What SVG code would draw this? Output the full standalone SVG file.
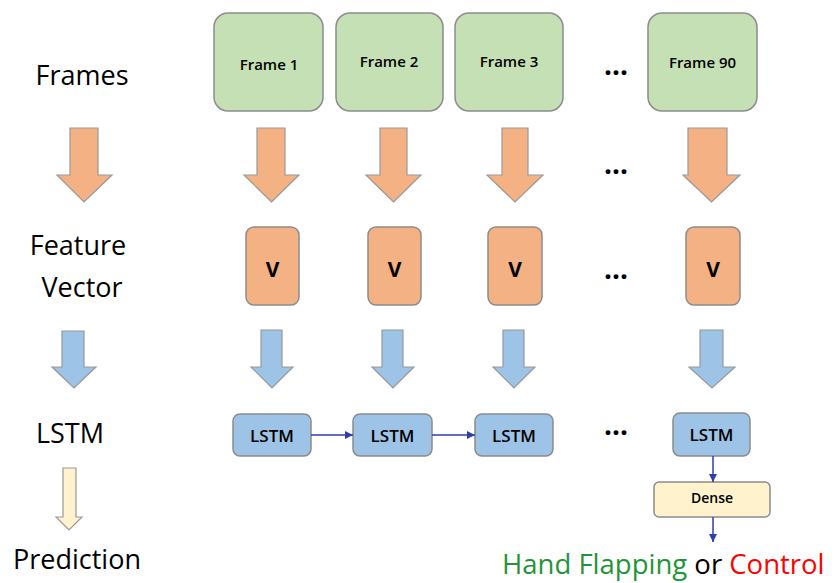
<svg xmlns="http://www.w3.org/2000/svg" width="837" height="583" viewBox="0 0 837 583">
<defs>
<style>
.lbl{font-family:"Open Sans","Liberation Sans",sans-serif;font-size:27px;fill:#000;text-anchor:middle}
.t{font-family:"Open Sans","Liberation Sans",sans-serif;fill:#000;text-anchor:middle;font-weight:600}
.vt{font-family:"Open Sans","Liberation Sans",sans-serif;fill:#000;text-anchor:middle;font-weight:700;font-size:21px}
.frame{fill:#c5e0b4;stroke:#8c8c8c;stroke-width:1.5}
.vec{fill:#f4b183;stroke:#8c8c8c;stroke-width:1.5}
.lstm{fill:#9dc3e6;stroke:#8c8c8c;stroke-width:1.5}
.dense{fill:#fff2cc;stroke:#8c8c8c;stroke-width:1.5}
.oa{fill:#f4b183;stroke:#999;stroke-width:1.2}
.ba{fill:#9dc3e6;stroke:#999;stroke-width:1.2}
.ca{fill:#fff2cc;stroke:#999;stroke-width:1.2}
.conn{stroke:#2f3ea8;stroke-width:1.5;fill:none;marker-end:url(#ah)}
.dots{font-family:"Open Sans","Liberation Sans",sans-serif;font-size:28px;font-weight:bold;fill:#000;text-anchor:middle}
</style>
<marker id="ah" viewBox="0 0 10 10" refX="10" refY="5" markerWidth="8" markerHeight="8" markerUnits="userSpaceOnUse" orient="auto">
<path d="M0,0 L10,5 L0,10 z" fill="#2f3ea8"/>
</marker>
</defs>
<rect width="837" height="583" fill="#fff"/>

<g id="row-labels">
<text class="lbl" x="82" y="85">Frames</text>
<text class="lbl" x="78" y="255">Feature</text>
<text class="lbl" x="82" y="297">Vector</text>
<text class="lbl" x="70" y="443">LSTM</text>
<text class="lbl" x="77" y="569">Prediction</text>
</g>

<g id="frame1"><rect class="frame" x="214" y="13" width="109" height="98" rx="14"/><text class="t" x="269" y="70" font-size="15">Frame 1</text></g>
<g id="frame2"><rect class="frame" x="336" y="13" width="107" height="98" rx="14"/><text class="t" x="389" y="67" font-size="15">Frame 2</text></g>
<g id="frame3"><rect class="frame" x="455" y="13" width="108" height="98" rx="14"/><text class="t" x="509" y="67" font-size="15">Frame 3</text></g>
<g id="frame90"><rect class="frame" x="648" y="13" width="109" height="98" rx="14"/><text class="t" x="702.5" y="68" font-size="15">Frame 90</text></g>

<g id="orange-arrows">
<path class="oa" d="M70,128 H98 V175 H112 L84,202 L57,175 H70 Z"/>
<path class="oa" d="M257,128 H285 V175 H299 L271.5,202 L244,175 H257 Z"/>
<path class="oa" d="M380,128 H407 V175 H421 L393.5,202 L366,175 H380 Z"/>
<path class="oa" d="M502,128 H528 V175 H543 L515,202 L487,175 H502 Z"/>
<path class="oa" d="M688,128 H727 V175 H740 L711.5,202 L683,175 H688 Z"/>
</g>

<g id="v1"><rect class="vec" x="246" y="227" width="53" height="78" rx="8"/><text class="vt" x="272.5" y="277">V</text></g>
<g id="v2"><rect class="vec" x="368" y="227" width="53" height="78" rx="8"/><text class="vt" x="394.5" y="277">V</text></g>
<g id="v3"><rect class="vec" x="488" y="227" width="54" height="78" rx="8"/><text class="vt" x="515" y="277">V</text></g>
<g id="v90"><rect class="vec" x="686" y="227" width="54" height="78" rx="8"/><text class="vt" x="713" y="277">V</text></g>

<g id="blue-arrows">
<path class="ba" d="M62,331 H84 V367 H96 L74,388 L52,367 H62 Z"/>
<path class="ba" d="M261,330 H282 V367 H293 L272,388 L251,367 H261 Z"/>
<path class="ba" d="M382,330 H403 V367 H414 L393,388 L372,367 H382 Z"/>
<path class="ba" d="M503,330 H524 V367 H535 L514,388 L493,367 H503 Z"/>
<path class="ba" d="M700,330 H723 V367 H735 L712,388 L689,367 H700 Z"/>
</g>

<g id="cream-arrow">
<path class="ca" d="M63,468 H76 V517 H82 L69,530 L56,517 H63 Z"/>
</g>

<g id="lstm1"><rect class="lstm" x="233" y="414" width="78" height="42" rx="7"/><text class="t" x="272" y="442" font-size="17">LSTM</text></g>
<g id="lstm2"><rect class="lstm" x="353" y="414" width="79" height="42" rx="7"/><text class="t" x="392.5" y="442" font-size="17">LSTM</text></g>
<g id="lstm3"><rect class="lstm" x="475" y="414" width="78" height="42" rx="7"/><text class="t" x="514" y="442" font-size="17">LSTM</text></g>
<g id="lstm90"><rect class="lstm" x="673" y="413" width="77" height="43" rx="7"/><text class="t" x="711.5" y="441" font-size="17">LSTM</text></g>
<g id="dense"><rect class="dense" x="654" y="482" width="116" height="35" rx="5"/><text class="t" x="712" y="503" font-size="14">Dense</text></g>

<g id="connectors">
<line class="conn" x1="311" y1="435" x2="353" y2="435"/>
<line class="conn" x1="432" y1="435" x2="475" y2="435"/>
<line class="conn" x1="713" y1="456" x2="713" y2="482"/>
<line class="conn" x1="713" y1="517" x2="713" y2="542"/>
</g>

<g id="ellipses">
<text class="dots" x="616" y="75">...</text>
<text class="dots" x="616" y="174">...</text>
<text class="dots" x="616" y="279">...</text>
<text class="dots" x="616" y="435">...</text>
</g>

<g id="output">
<text x="502" y="574" font-family="'Open Sans','Liberation Sans',sans-serif" font-size="27.5"><tspan fill="#1e9638">Hand Flapping </tspan><tspan fill="#000">or </tspan><tspan fill="#ff0000">Control</tspan></text>
</g>
</svg>
